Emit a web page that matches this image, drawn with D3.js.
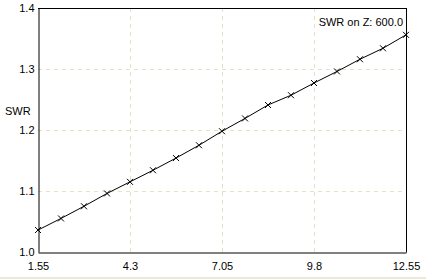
<!DOCTYPE html>
<html><head><meta charset="utf-8">
<script src="https://cdn.jsdelivr.net/npm/d3@7"></script>
<style>
html,body{margin:0;padding:0;background:#fff;}
svg{display:block;}
text{font-family:"Liberation Sans",Arial,sans-serif;font-size:11px;fill:#000;}
</style></head>
<body><svg id="c" width="426" height="279"></svg>
<script>
const freq = [1.55, 2.2375, 2.925, 3.6125, 4.3, 4.9875, 5.675, 6.3625, 7.05, 7.7375, 8.425, 9.1125, 9.8, 10.4875, 11.175, 11.8625, 12.55];
const swr = [1.036, 1.055, 1.075, 1.096, 1.115, 1.134, 1.154, 1.175, 1.198, 1.219, 1.241, 1.257, 1.277, 1.296, 1.316, 1.334, 1.356];
const xTicks = [1.55, 4.3, 7.05, 9.8, 12.55];
const xTickLabels = ["1.55", "4.3", "7.05", "9.8", "12.55"];
const yTicks = [1.0, 1.1, 1.2, 1.3, 1.4];
const yTickLabels = ["1.0", "1.1", "1.2", "1.3", "1.4"];
const yLabel = "SWR";
const title = "SWR on Z: 600.0";

const svg = d3.select("#c");
const W = 426, H = 279;
const L = 38, R = 406, T = 8, B = 252;
const x = d3.scaleLinear().domain([1.55, 12.55]).range([L, R]);
const y = d3.scaleLinear().domain([1.0, 1.4]).range([B, T]);

svg.append("rect").attr("x",0).attr("y",0).attr("width",W).attr("height",H).attr("fill","#fff");
svg.append("rect").attr("x",0).attr("y",277).attr("width",W).attr("height",2).attr("fill","#ECE9D8");

const grid = svg.append("g").attr("stroke","#E6E2CA").attr("stroke-width",1).attr("stroke-dasharray","4,4");
xTicks.slice(1,-1).forEach(v=>{
  const px = Math.round(x(v))+0.5;
  grid.append("line").attr("x1",px).attr("x2",px).attr("y1",T).attr("y2",B);
});
yTicks.slice(1,-1).forEach(v=>{
  const py = Math.round(y(v))+0.5;
  grid.append("line").attr("x1",L).attr("x2",R).attr("y1",py).attr("y2",py);
});

// frame via axes
const xAxis = d3.axisBottom(x).tickValues(xTicks).tickFormat((d,i)=>xTickLabels[i]).tickSize(0).tickPadding(10);
const gx = svg.append("g").attr("transform",`translate(0,${B+0.5})`).call(xAxis);
gx.select(".domain").attr("stroke","#000");
gx.selectAll("text").style("font-family","Liberation Sans, Arial, sans-serif").style("font-size","11px").attr("fill","#000");

const yAxis = d3.axisLeft(y).tickValues(yTicks).tickFormat((d,i)=>yTickLabels[i]).tickSize(0).tickPadding(4);
const gy = svg.append("g").attr("transform",`translate(${L+0.5},0)`).call(yAxis);
gy.select(".domain").attr("stroke","#000");
gy.selectAll("text").style("font-family","Liberation Sans, Arial, sans-serif").style("font-size","11px").attr("fill","#000");

svg.append("line").attr("x1",L).attr("x2",R+0.5).attr("y1",T+0.5).attr("y2",T+0.5).attr("stroke","#000");
svg.append("line").attr("x1",R+0.5).attr("x2",R+0.5).attr("y1",T).attr("y2",B+0.5).attr("stroke","#000");

const data = freq.map((f,i)=>({f, s:swr[i]}));
svg.append("path").datum(data)
  .attr("fill","none").attr("stroke","#000").attr("stroke-width",1)
  .attr("d", d3.line().x(d=>x(d.f)).y(d=>y(d.s)));

const mk = svg.append("g").attr("stroke","#000").attr("stroke-width",1);
data.forEach(d=>{
  const cx = x(d.f), cy = y(d.s), s = 3;
  mk.append("line").attr("x1",cx-s).attr("y1",cy-s).attr("x2",cx+s).attr("y2",cy+s);
  mk.append("line").attr("x1",cx-s).attr("y1",cy+s).attr("x2",cx+s).attr("y2",cy-s);
});

svg.append("text").attr("x",5).attr("y",115).text(yLabel);
svg.append("text").attr("x",403).attr("y",26).attr("text-anchor","end").text(title);
</script></body></html>
